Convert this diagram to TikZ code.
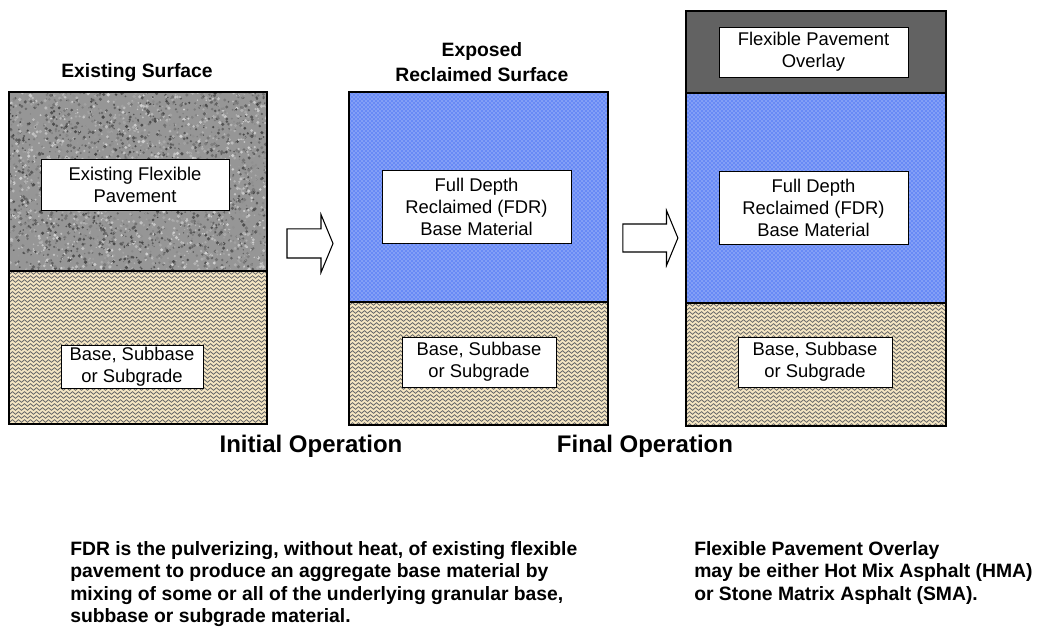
\documentclass[tikz,border=0pt]{standalone}
\usepackage{fontspec}
\setmainfont{Liberation Sans}
\usetikzlibrary{shapes.arrows,patterns,decorations.pathmorphing}
\definecolor{gravel}{RGB}{150,150,150}
\definecolor{sand}{RGB}{245,230,195}
\definecolor{fdrblue}{RGB}{104,138,245}
\definecolor{hmagray}{RGB}{98,98,98}

% zigzag rows of the base layer: x1,x2,y1,y2
\newcommand{\baserows}[4]{%
  \begin{scope}
    \clip (#1,#3) rectangle (#2,#4);
    \fill[sand] (#1,#3) rectangle (#2,#4);
    \foreach \k in {0,...,39}
      \draw[zig] (#1-4,{#3+2+4*\k}) -- (#2+4,{#3+2+4*\k});
  \end{scope}}
% fine blue layer: x1,x2,y1,y2
\newcommand{\bluelayer}[4]{%
  \fill[fdrblue] (#1,#3) rectangle (#2,#4);
  \fill[pattern=crosshatch dots,pattern color=white!80!fdrblue] (#1,#3) rectangle (#2,#4);}

\begin{document}
\begin{tikzpicture}[x=0.75pt,y=-0.75pt,
   box/.style={draw,fill=white,line width=0.7pt,align=center,inner sep=0pt,
               font=\fontsize{13.8}{16.5}\selectfont},
   ttl/.style={align=center,font=\fontsize{14.5}{19}\selectfont\bfseries},
   opn/.style={font=\fontsize{18}{22}\selectfont\bfseries},
   note/.style={align=left,anchor=north west,inner sep=0pt,
                font=\fontsize{14.5}{16.9}\selectfont\bfseries},
   blk/.style={single arrow,draw,fill=white,line width=0.8pt,inner xsep=0pt,
               single arrow tip angle=135},
   layer/.style={draw,line width=1.1pt},
   zig/.style={black!58,line width=0.55pt,decorate,
               decoration={zigzag,segment length=4.5pt,amplitude=1.1pt}}]
\fill[white] (0,0) rectangle (1064,627);
\useasboundingbox (0,0) rectangle (1064,627);

%% ---- panel 1: existing surface ----
\begin{scope}
  \clip (9,92) rectangle (267,271);
  \fill[gravel] (9,92) rectangle (267,271);
  \pgfmathsetseed{42}
  \foreach \k in {1,...,3400}{
    \pgfmathsetmacro\gx{9+258*rnd}
    \pgfmathsetmacro\gy{92+179*rnd}
    \pgfmathsetmacro\gr{0.5+0.9*rnd}
    \pgfmathsetmacro\gs{int(18+55*rnd)}
    \fill[black!\gs] (\gx,\gy) circle[radius=\gr pt];
  }
\end{scope}
\baserows{9}{267}{271}{424}
\draw[layer] (9,92) rectangle (267,424) (9,271) -- (267,271);
\node[ttl] (t1) at (137,73) {Existing Surface};
\node[box,minimum width=141pt,minimum height=38.25pt] (efp) at (135,184.5)
  {Existing Flexible\\Pavement};
\node[box,minimum width=106.5pt,minimum height=32.25pt] (bs1) at (132,366.5)
  {Base, Subbase\\or Subgrade};

%% ---- arrow ----
\node[blk,minimum height=34.5pt,inner ysep=10.5pt,
      single arrow head extend=10.9pt] (a1) at (307,243.5) {};

%% ---- panel 2: exposed reclaimed surface ----
\bluelayer{349}{608}{92}{302}
\baserows{349}{608}{302}{425}
\draw[layer] (349,92) rectangle (608,425) (349,302) -- (608,302);
\node[ttl] (t2) at (482,62) {Exposed\\Reclaimed Surface};
\node[box,minimum width=141.75pt,minimum height=54.75pt] (fdr2) at (476.5,206.5)
  {Full Depth\\Reclaimed (FDR)\\Base Material};
\node[box,minimum width=115.5pt,minimum height=37.5pt] (bs2) at (479,362)
  {Base, Subbase\\or Subgrade};

%% ---- arrow ----
\node[blk,minimum height=41.25pt,inner ysep=10.1pt,
      single arrow head extend=10.1pt] (a2) at (647.5,238) {};

%% ---- panel 3: with overlay ----
\fill[hmagray] (686,11) rectangle (946,93);
\bluelayer{686}{946}{93}{303}
\baserows{686}{946}{303}{426}
\draw[layer] (686,11) rectangle (946,426) (686,93) -- (946,93) (686,303) -- (946,303);
\node[box,minimum width=141.75pt,minimum height=37.5pt] (hma3) at (813.5,52)
  {Flexible Pavement\\Overlay};
\node[box,minimum width=141.75pt,minimum height=54.75pt] (fdr3) at (813.5,207.5)
  {Full Depth\\Reclaimed (FDR)\\Base Material};
\node[box,minimum width=115.5pt,minimum height=37.5pt] (bs3) at (815,362)
  {Base, Subbase\\or Subgrade};

%% ---- operations and notes ----
\node[opn] (op1) at (311,446) {Initial Operation};
\node[opn] (op2) at (645,446) {Final Operation};
\node[note] (n1) at (70,541) {FDR is the pulverizing, without heat, of existing flexible\\
  pavement to produce an aggregate base material by\\
  mixing of some or all of the underlying granular base,\\
  subbase or subgrade material.};
\node[note] (n2) at (694,541) {Flexible Pavement Overlay\\
  may be either Hot Mix Asphalt (HMA)\\
  or Stone Matrix Asphalt (SMA).};
\end{tikzpicture}
\end{document}
